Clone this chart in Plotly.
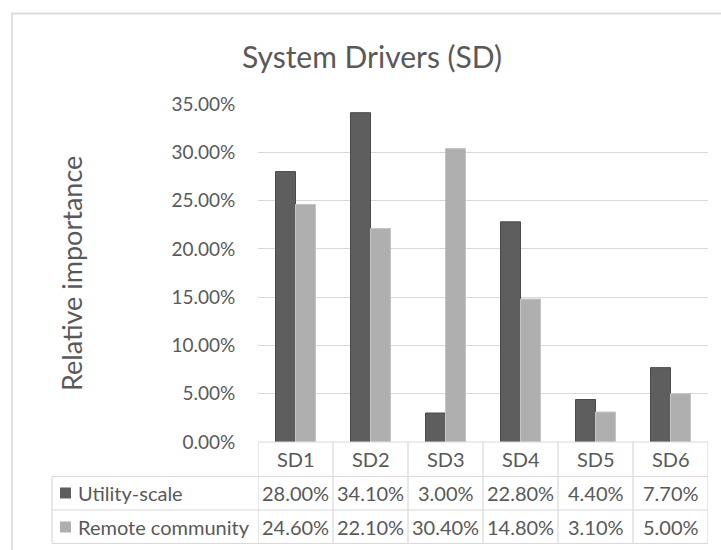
import plotly.graph_objects as go

categories = ["SD1", "SD2", "SD3", "SD4", "SD5", "SD6"]
series_names = ["Utility-scale", "Remote community"]
utility_scale = [28.00, 34.10, 3.00, 22.80, 4.40, 7.70]
remote_community = [24.60, 22.10, 30.40, 14.80, 3.10, 5.00]
y_ticks = [0, 5, 10, 15, 20, 25, 30, 35]
title_text = "System Drivers (SD)"
y_title = "Relative importance"

W, H = 721, 550
FONT = "Lato"
TXT = "#595959"
GRID = "#d9d9d9"
colors = ["#5e5e5e", "#afafaf"]
edge = ["#4a4a4a", "#c4c4c4"]

def px(x):
    return x / W

def py(y):
    return 1 - y / H

x_dom = [px(258), px(708)]
y_dom = [py(442), py(104)]

fig = go.Figure()
for name, vals, c, e in zip(series_names, [utility_scale, remote_community], colors, edge):
    fig.add_trace(go.Bar(x=categories, y=vals, name=name,
                         marker=dict(color=c, line=dict(color=e, width=1))))

shapes = []
annotations = []

# outer chart border
shapes.append(dict(type="rect", xref="paper", yref="paper", x0=px(12), y0=py(13.5),
                   x1=1.05, y1=-0.05, line=dict(color="#dcdcdc", width=1.8)))

# data table
row_lines = [442, 476.5, 510, 543.5]
row_centers = [459, 493, 527]
label_left = 52
shapes.append(dict(type="line", xref="paper", yref="paper", x0=x_dom[0], x1=x_dom[1],
                   y0=py(row_lines[0]), y1=py(row_lines[0]), line=dict(color=GRID, width=1.2)))
for r in row_lines[1:]:
    shapes.append(dict(type="line", xref="paper", yref="paper", x0=px(label_left), x1=x_dom[1],
                       y0=py(r), y1=py(r), line=dict(color=GRID, width=1.2)))
for k in range(len(categories) + 1):
    shapes.append(dict(type="line", xref="x", yref="paper", x0=k - 0.5, x1=k - 0.5,
                       y0=py(row_lines[0]), y1=py(row_lines[-1]), line=dict(color=GRID, width=1.2)))
shapes.append(dict(type="line", xref="paper", yref="paper", x0=px(label_left), x1=px(label_left),
                   y0=py(row_lines[1]), y1=py(row_lines[-1]), line=dict(color=GRID, width=1.2)))

for c in categories:
    annotations.append(dict(x=c, xref="x", y=py(row_centers[0]), yref="paper", text=c,
                            xanchor="center", yanchor="middle",
                            showarrow=False, font=dict(family=FONT, size=20, color=TXT)))
for i, (name, vals) in enumerate(zip(series_names, [utility_scale, remote_community])):
    yc = row_centers[i + 1]
    shapes.append(dict(type="rect", xref="paper", yref="paper", x0=px(60), x1=px(71),
                       y0=py(yc - 5.5), y1=py(yc + 5.5), fillcolor=colors[i],
                       line=dict(width=0)))
    annotations.append(dict(x=px(76), xref="paper", y=py(yc), yref="paper", text=name,
                            xanchor="left", yanchor="middle", showarrow=False,
                            font=dict(family=FONT, size=20, color=TXT)))
    for c, v in zip(categories, vals):
        annotations.append(dict(x=c, xref="x", y=py(yc), yref="paper", text=f"{v:.2f}%",
                                xanchor="center", yanchor="middle",
                                showarrow=False, font=dict(family=FONT, size=20, color=TXT)))

annotations.append(dict(x=px(372), xref="paper", y=py(56), yref="paper", text=title_text,
                        xanchor="center", yanchor="middle",
                        showarrow=False, font=dict(family=FONT, size=30, color=TXT)))
annotations.append(dict(x=px(71), xref="paper", y=py(274), yref="paper", text=y_title,
                        xanchor="center", yanchor="middle",
                        textangle=-90, showarrow=False, font=dict(family=FONT, size=27, color=TXT)))

fig.update_layout(
    width=W, height=H,
    margin=dict(l=0, r=0, t=0, b=0, pad=0),
    paper_bgcolor="white", plot_bgcolor="white",
    barmode="group", bargap=0.467, bargroupgap=0,
    showlegend=False,
    shapes=shapes, annotations=annotations,
    font=dict(family=FONT, color=TXT),
    xaxis=dict(domain=x_dom, range=[-0.5, 5.5], showticklabels=False, showgrid=False,
               showline=False, zeroline=False, fixedrange=True, automargin=False),
    yaxis=dict(domain=y_dom, range=[0, 35], tickvals=y_ticks,
               ticktext=[f"{t:.2f}%" for t in y_ticks], automargin=False,
               showgrid=True, gridcolor=GRID, gridwidth=1.2, zeroline=False, showline=False,
               ticks="outside", ticklen=18, tickcolor="rgba(0,0,0,0)",
               tickfont=dict(family=FONT, size=19, color=TXT)),
)

fig.write_html("out.html")
